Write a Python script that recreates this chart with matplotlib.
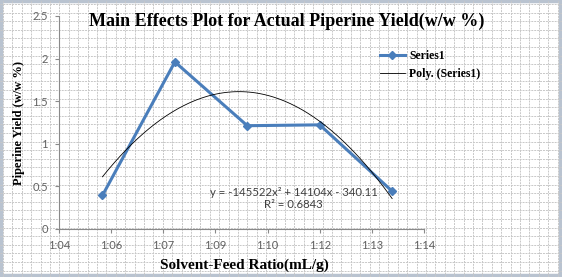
import matplotlib.pyplot as plt
from matplotlib.patches import Rectangle
import numpy as np

# solvent-feed ratio stored as Excel time values (minutes), yield in w/w %
ratio_min = [66, 68, 70, 72, 74]
yield_pct = [0.39, 1.96, 1.21, 1.22, 0.44]
tick_labels = ["1:04", "1:06", "1:07", "1:09", "1:10", "1:12", "1:13", "1:14"]
y_ticks = [0, 0.5, 1, 1.5, 2, 2.5]
y_tick_labels = ["0", "0.5", "1", "1.5", "2", "2.5"]

W, H = 562, 277
fig = plt.figure(figsize=(W / 100, H / 100), dpi=100)

# graph paper background
bg = fig.add_axes([0, 0, 1, 1], zorder=0)
bg.set_xlim(0, W)
bg.set_ylim(H, 0)
bg.axis('off')
for gx in np.arange(3, W, 9.4):
    bg.axvline(gx, color='#c8c8c8', lw=0.7, ls=(0, (2, 1)))
for gy in np.arange(4, H, 8.6):
    bg.axhline(gy, color='#c8c8c8', lw=0.7, ls=(0, (2, 1)))
bg.add_patch(Rectangle((1, 1), W - 3, H - 3, fill=False, ec='#b9c3d0', lw=2.5))

ax = fig.add_axes([59 / W, 1 - 228.6 / H, 365 / W, 212.6 / H], zorder=1)
ax.patch.set_alpha(0)

ax.plot(ratio_min, yield_pct, '-D', color='#4a7ebb', lw=2.2, ms=4.5,
        label='Series1')
coef = np.polyfit(ratio_min, yield_pct, 2)
xs = np.linspace(min(ratio_min), max(ratio_min), 200)
ax.plot(xs, np.polyval(coef, xs), color='black', lw=0.6,
        label='Poly. (Series1)')

x0, step = 64.8, 1.44
ax.set_xlim(x0, x0 + step * (len(tick_labels) - 1))
ax.set_xticks(x0 + step * np.arange(len(tick_labels)))
ax.set_xticklabels(tick_labels)
ax.set_ylim(0, 2.5)
ax.set_yticks(y_ticks)
ax.set_yticklabels(y_tick_labels)

for s in ['top', 'right']:
    ax.spines[s].set_visible(False)
for s in ['left', 'bottom']:
    ax.spines[s].set_color('#8a8a8a')
    ax.spines[s].set_linewidth(0.8)
ax.tick_params(direction='out', length=3, color='#8a8a8a', labelsize=8,
               labelcolor='#606060', pad=5)
for lab in ax.get_xticklabels() + ax.get_yticklabels():
    lab.set_family('Lato')

serif = 'Liberation Serif'
fig.text(287 / W, 1 - 21 / H, 'Main Effects Plot for Actual Piperine Yield(w/w %)',
         ha='center', va='center', family=serif, weight='bold', size=13)
fig.text(19 / W, 1 - 123 / H, 'Piperine Yield (w/w %)', rotation=90,
         ha='center', va='center', family=serif, weight='bold', size=9)
fig.text(244 / W, 1 - 265 / H, 'Solvent-Feed Ratio(mL/g)',
         ha='center', va='center', family=serif, weight='bold', size=11)

fig.text(294 / W, 1 - 193 / H, 'y = -145522x\u00b2 + 14104x - 340.11',
         ha='center', va='center', family='Lato', size=8.2, color='#404040')
fig.text(293 / W, 1 - 205 / H, 'R\u00b2 = 0.6843',
         ha='center', va='center', family='Lato', size=8.2, color='#404040')

fig.legend(loc='upper left', bbox_to_anchor=(374 / W, 1 - 44 / H),
           frameon=False, borderpad=0, handlelength=2.1, handletextpad=0.4,
           labelspacing=0.55, prop={'family': serif, 'weight': 'bold', 'size': 8.5})

fig.savefig('out.png', dpi=100)
